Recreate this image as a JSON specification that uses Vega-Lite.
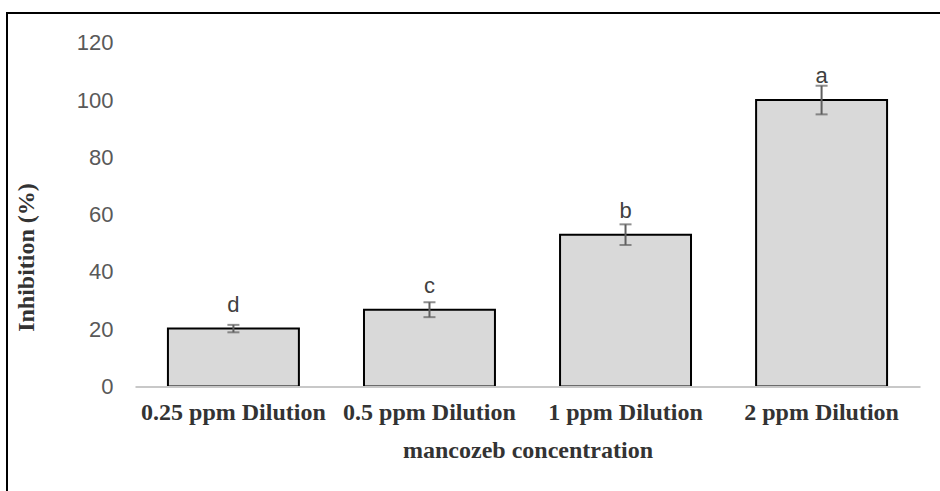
{
  "$schema": "https://vega.github.io/schema/vega-lite/v6.json",
  "autosize": {"type": "none"},
  "padding": {"left": 7, "top": 13, "right": 0, "bottom": 0},
  "width": 940,
  "height": 488,
  "background": "white",
  "config": {
    "view": {"stroke": "black", "strokeWidth": 2},
    "font": "Liberation Sans"
  },
  "data": {
    "values": [
      {"conc": "0.25 ppm Dilution", "mean": 20.2, "lo": 18.9, "hi": 21.5, "letter": "d"},
      {"conc": "0.5 ppm Dilution", "mean": 26.8, "lo": 24.2, "hi": 29.4, "letter": "c"},
      {"conc": "1 ppm Dilution", "mean": 53.0, "lo": 49.4, "hi": 56.6, "letter": "b"},
      {"conc": "2 ppm Dilution", "mean": 100.0, "lo": 95.0, "hi": 105.0, "letter": "a"}
    ]
  },
  "encoding": {
    "x": {
      "field": "conc",
      "type": "nominal",
      "sort": null,
      "scale": {"range": [128, 913], "paddingInner": 0.332, "paddingOuter": 0.168},
      "axis": {
        "orient": "bottom",
        "offset": -114.6,
        "title": "mancozeb concentration",
        "titleFont": "Liberation Serif",
        "titleFontWeight": "bold",
        "titleFontSize": 24,
        "titleColor": "#333333",
        "titlePadding": 14,
        "labelFont": "Liberation Serif",
        "labelFontWeight": "bold",
        "labelFontSize": 24,
        "labelColor": "#333333",
        "labelAngle": 0,
        "labelPadding": 14,
        "labelLimit": 0,
        "labelOverlap": false,
        "ticks": false,
        "domainColor": "#c8c8c8",
        "domainWidth": 2,
        "grid": false,
        "zindex": 1
      }
    }
  },
  "layer": [
    {
      "mark": {"type": "bar", "fill": "#d9d9d9", "stroke": "black", "strokeWidth": 2},
      "encoding": {
        "y": {
          "field": "mean",
          "type": "quantitative",
          "scale": {"domain": [-40, 130.4], "nice": false, "zero": false},
          "axis": {
            "orient": "left",
            "offset": -128,
            "values": [0, 20, 40, 60, 80, 100, 120],
            "domain": false,
            "ticks": false,
            "grid": false,
            "labelFont": "Liberation Sans",
            "labelFontSize": 22,
            "labelColor": "#595959",
            "labelPadding": 22,
            "title": "Inhibition (%)",
            "titleFont": "Liberation Serif",
            "titleFontWeight": "bold",
            "titleFontSize": 24,
            "titleColor": "#333333",
            "titlePadding": 38
          }
        },
        "y2": {"datum": 0}
      }
    },
    {
      "mark": {"type": "rule", "color": "#5f5f5f", "strokeWidth": 2},
      "encoding": {
        "y": {"field": "lo", "type": "quantitative"},
        "y2": {"field": "hi"}
      }
    },
    {
      "mark": {"type": "tick", "color": "#5f5f5f", "thickness": 2, "size": 12, "orient": "horizontal"},
      "encoding": {
        "y": {"field": "lo", "type": "quantitative"}
      }
    },
    {
      "mark": {"type": "tick", "color": "#5f5f5f", "thickness": 2, "size": 12, "orient": "horizontal"},
      "encoding": {
        "y": {"field": "hi", "type": "quantitative"}
      }
    },
    {
      "mark": {"type": "text", "fontSize": 22, "color": "#404040", "baseline": "alphabetic", "dy": -17},
      "encoding": {
        "y": {"field": "mean", "type": "quantitative"},
        "text": {"field": "letter"}
      }
    }
  ]
}
